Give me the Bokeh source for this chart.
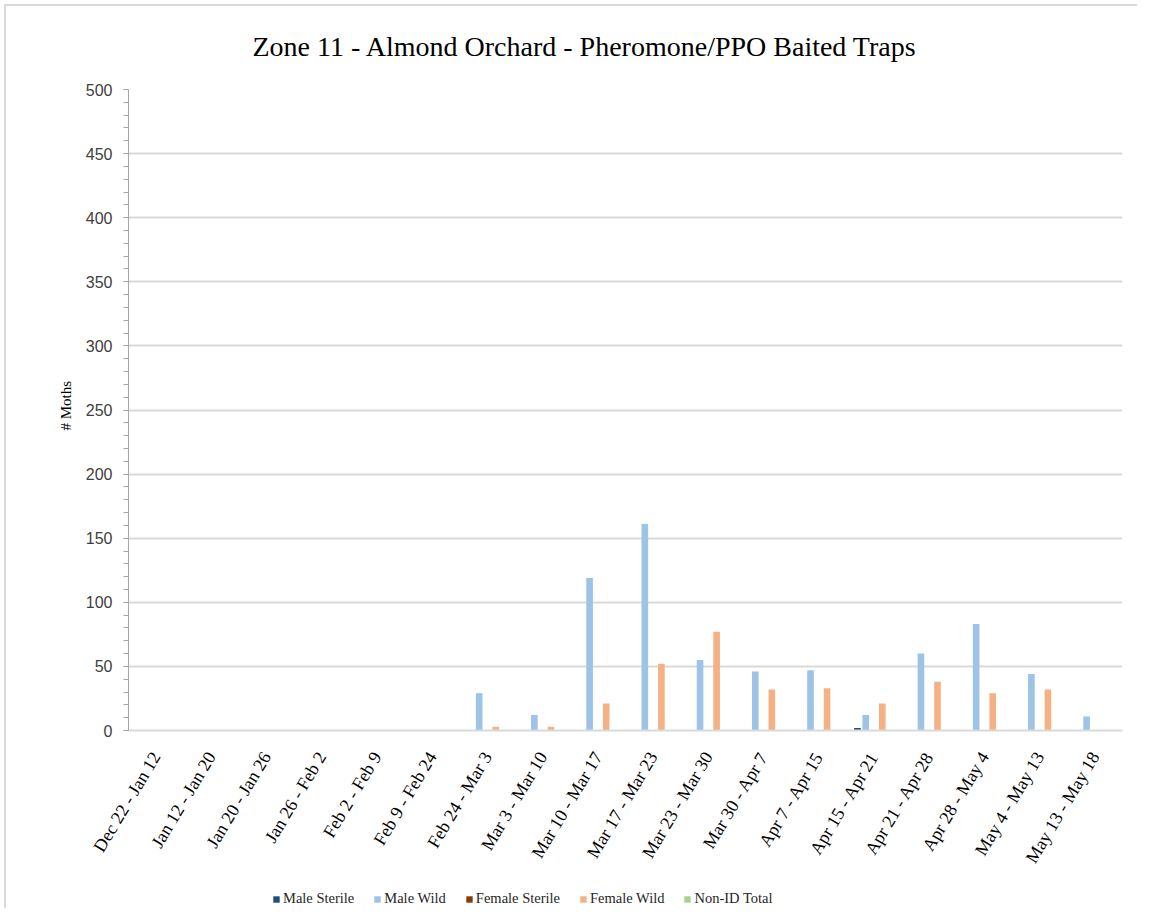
from bokeh.plotting import figure
from bokeh.layouts import column
from bokeh.models import (FactorRange, Range1d, Legend, LegendItem, Title,
                          FixedTicker, ColumnDataSource)
from bokeh.transform import dodge
from bokeh.embed import file_html
from bokeh.resources import INLINE

categories = ["Dec 22 - Jan 12", "Jan 12 - Jan 20", "Jan 20 - Jan 26", "Jan 26 - Feb 2",
              "Feb 2 - Feb 9", "Feb 9 - Feb 24", "Feb 24 - Mar 3", "Mar 3 - Mar 10",
              "Mar 10 - Mar 17", "Mar 17 - Mar 23", "Mar 23 - Mar 30", "Mar 30 - Apr 7",
              "Apr 7 - Apr 15", "Apr 15 - Apr 21", "Apr 21 - Apr 28", "Apr 28 - May 4",
              "May 4 - May 13", "May 13 - May 18"]
male_sterile   = [0, 0, 0, 0, 0, 0, 0, 0, 0, 0, 0, 0, 0, 2, 0, 0, 0, 0]
male_wild      = [0, 0, 0, 0, 0, 0, 29, 12, 119, 161, 55, 46, 47, 12, 60, 83, 44, 11]
female_sterile = [0, 0, 0, 0, 0, 0, 0, 0, 0, 0, 0, 0, 0, 0, 0, 0, 0, 0]
female_wild    = [0, 0, 0, 0, 0, 0, 3, 3, 21, 52, 77, 32, 33, 21, 38, 29, 32, 0]
non_id_total   = [0, 0, 0, 0, 0, 0, 0, 0, 0, 0, 0, 0, 0, 0, 0, 0, 0, 0]

y_ticks = [0, 50, 100, 150, 200, 250, 300, 350, 400, 450, 500]
y_minor_ticks = list(range(0, 501, 10))

series_names = ["Male Sterile", "Male Wild", "Female Sterile", "Female Wild", "Non-ID Total"]
series_keys = ["ms", "mw", "fs", "fw", "ni"]
colors = ["#1F4E79", "#9DC3E6", "#843C0C", "#F4B183", "#A9D18E"]

source = ColumnDataSource(dict(cat=categories, ms=male_sterile, mw=male_wild,
                               fs=female_sterile, fw=female_wild, ni=non_id_total))

H1 = 878
p = figure(x_range=FactorRange(*categories), y_range=Range1d(0, 500),
           width=1137, height=H1, output_backend="svg", toolbar_location=None,
           min_border_left=128, min_border_right=15, min_border_top=89,
           min_border_bottom=H1 - 730)
p.x_range.range_padding = 0

p.title = Title(text="Zone 11 - Almond Orchard - Pheromone/PPO Baited Traps",
                align="left", offset=124, standoff=52, vertical_align="top",
                text_font="Liberation Serif", text_font_size="28px",
                text_font_style="normal", text_color="#000000")

offsets = [-0.3, -0.15, 0.0, 0.15, 0.3]
for key, col, off in zip(series_keys, colors, offsets):
    p.vbar(x=dodge("cat", off, range=p.x_range), top=key, width=0.12,
           source=source, fill_color=col, line_color=None)

p.outline_line_color = None
p.border_fill_color = None
p.xgrid.grid_line_color = None
p.ygrid.grid_line_color = "#D9D9D9"
p.ygrid.grid_line_width = 2

p.yaxis.ticker = FixedTicker(ticks=y_ticks, minor_ticks=y_minor_ticks)
p.yaxis.axis_line_color = "#A6A6A6"
p.yaxis.major_tick_line_color = "#A6A6A6"
p.yaxis.minor_tick_line_color = "#A6A6A6"
p.yaxis.major_tick_out = 5
p.yaxis.major_tick_in = 0
p.yaxis.minor_tick_out = 5
p.yaxis.minor_tick_in = 0
p.yaxis.major_label_standoff = 11
p.yaxis.major_label_text_font = "Liberation Sans"
p.yaxis.major_label_text_font_size = "16px"
p.yaxis.major_label_text_color = "#404040"

ylabel = Title(text="# Moths", align="left", offset=300, standoff=18,
               text_font="Liberation Serif", text_font_size="15px",
               text_font_style="normal", text_color="#000000")
p.add_layout(ylabel, "left")

p.xaxis.axis_line_color = "#D9D9D9"
p.xaxis.axis_line_width = 2
p.xaxis.major_tick_line_color = None
p.xaxis.minor_tick_line_color = None
p.xaxis.major_tick_out = 0
p.xaxis.major_tick_in = 0
p.xaxis.major_label_orientation = 1.03
p.xaxis.major_label_text_font = "Liberation Serif"
p.xaxis.major_label_text_font_size = "18px"
p.xaxis.major_label_text_color = "#000000"
p.xaxis.major_label_standoff = 23

p.styles = {"background": "linear-gradient(#D9D9D9,#D9D9D9) 4px 4px / 2px calc(100% - 4px) no-repeat, "
                          "linear-gradient(#D9D9D9,#D9D9D9) 4px 4px / calc(100% - 4px) 2px no-repeat, #ffffff"}

# legend strip below the chart; its swatch renderers are zero-height bars (nothing drawn)
H2 = 908 - H1
q = figure(x_range=Range1d(0, 1), y_range=Range1d(0, 1), width=1137, height=H2,
           output_backend="svg", toolbar_location=None,
           x_axis_location=None, y_axis_location=None,
           min_border_left=128, min_border_right=15, min_border_top=0, min_border_bottom=0)
q.grid.visible = False
q.outline_line_color = None
q.border_fill_color = None
q.background_fill_color = None
items = []
for name, col in zip(series_names, colors):
    r = q.vbar(x=[0.5], top=[0.5], bottom=[0.5], width=0.01, fill_color=col, line_color=None)
    items.append(LegendItem(label=name, renderers=[r]))
legend = Legend(items=items, orientation="horizontal", location=(144, 1),
                border_line_color=None, background_fill_alpha=0,
                glyph_width=8, glyph_height=8, label_standoff=3, spacing=19,
                padding=0, margin=0, label_text_font="Liberation Serif",
                label_text_font_size="14.5px", label_text_color="#262626")
q.add_layout(legend)
q.styles = {"background": "linear-gradient(#D9D9D9,#D9D9D9) 4px 0px / 2px 100% no-repeat, #ffffff"}

layout = column(p, q, spacing=0)
open("out.html", "w").write(file_html(layout, INLINE))
